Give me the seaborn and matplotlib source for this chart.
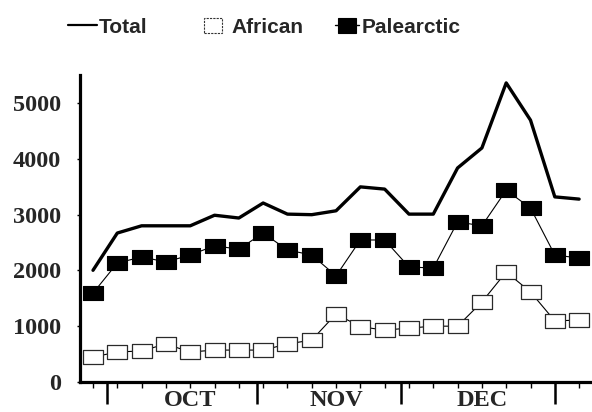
import numpy as np
import pandas as pd
import matplotlib
matplotlib.use("Agg")
import matplotlib.pyplot as plt
from matplotlib.path import Path
from matplotlib.lines import Line2D
from matplotlib.patches import Rectangle
import seaborn as sns

# ---- data ----
period = list(range(21))
total = [2000, 2670, 2800, 2800, 2800, 2990, 2940, 3210, 3010, 3000, 3070,
         3500, 3460, 3010, 3010, 3840, 4200, 5370, 4700, 3320, 3280]
palearctic = [1590, 2130, 2240, 2150, 2275, 2440, 2380, 2670, 2365, 2275, 1900,
              2545, 2545, 2060, 2040, 2870, 2800, 3440, 3120, 2275, 2220]
african = [440, 530, 550, 675, 530, 565, 565, 565, 675, 745, 1215,
           985, 925, 960, 995, 995, 1430, 1970, 1610, 1090, 1105]
month_labels = ["OCT", "NOV", "DEC"]
month_label_pos = [4, 10, 16]
month_bounds = [0.58, 6.75, 12.67, 19.0]
yticks = [0, 1000, 2000, 3000, 4000, 5000]

df = pd.DataFrame({"period": period, "Total": total,
                   "Palearctic": palearctic, "African": african})

sns.set_style("white")
plt.rcParams["font.family"] = ["Liberation Serif", "DejaVu Serif"]

W, H = 592, 412
fig = plt.figure(figsize=(W / 100, H / 100), dpi=100)
ax_left, ax_bottom_px, ax_top_px = 80, 381.5, 75
ax = fig.add_axes([ax_left / W, (H - ax_bottom_px) / H,
                   (W - ax_left) / W, (ax_bottom_px - ax_top_px) / H])

rect = Path([(-1, -0.68), (1, -0.68), (1, 0.68), (-1, 0.68), (-1, -0.68)],
            [Path.MOVETO, Path.LINETO, Path.LINETO, Path.LINETO, Path.CLOSEPOLY])

# connectors
sns.lineplot(data=df, x="period", y="African", ax=ax, color="black",
             linewidth=0.8, zorder=2)
sns.lineplot(data=df, x="period", y="Palearctic", ax=ax, color="black",
             linewidth=0.8, zorder=2)
# markers
sns.scatterplot(data=df, x="period", y="African", ax=ax, marker=rect, s=215,
                facecolor="white", edgecolor="#2a2a2a", linewidth=0.9, zorder=3)
sns.scatterplot(data=df, x="period", y="Palearctic", ax=ax, marker=rect, s=225,
                facecolor="black", edgecolor="black", linewidth=0.8, zorder=3)
# total
sns.lineplot(data=df, x="period", y="Total", ax=ax, color="black",
             linewidth=2.4, zorder=4)

ax.set_xlim(-0.535, 20.53)
ax.set_ylim(0, 5512)
ax.set_xlabel("")
ax.set_ylabel("")

for s in ["top", "right"]:
    ax.spines[s].set_visible(False)
for s in ["left", "bottom"]:
    ax.spines[s].set_linewidth(2.3)
    ax.spines[s].set_color("black")

ax.set_yticks(yticks)
ax.set_yticklabels([str(v) for v in yticks], fontsize=17.5, fontweight="bold")
ax.tick_params(axis="y", length=2.5, width=1, pad=11, color="black", left=True)

ax.set_xticks(month_bounds)
ax.set_xticklabels([])
ax.set_xticks(period, minor=True)
ax.tick_params(axis="x", which="major", length=16, width=1.8, color="black",
               bottom=True, direction="out")
ax.tick_params(axis="x", which="minor", length=4.5, width=1.0, color="black",
               bottom=True, direction="out")

for lab, pos in zip(month_labels, month_label_pos):
    ax.annotate(lab, xy=(pos, 0), xycoords=("data", "axes fraction"),
                xytext=(0, -6), textcoords="offset points",
                ha="center", va="top", fontsize=17.5, fontweight="bold",
                annotation_clip=False)

# legend (manual)
lg_font = dict(family=["Liberation Sans", "DejaVu Sans"], fontsize=15,
               fontweight="bold", va="baseline", ha="left")
by = 1 - 33 / H
fig.add_artist(Line2D([68 / W, 97 / W], [1 - 24.5 / H] * 2, color="black",
                      linewidth=1.6))
fig.text(99 / W, by, "Total", **lg_font)
fig.add_artist(Rectangle((204 / W, 1 - 33 / H), 18 / W, 15 / H,
                         facecolor="white", edgecolor="#333333",
                         linewidth=0.8, linestyle=(0, (2, 1))))
fig.text(231 / W, by, "African", **lg_font)
fig.add_artist(Line2D([335 / W, 359 / W], [1 - 25 / H] * 2, color="black",
                      linewidth=1.0))
fig.add_artist(Rectangle((338 / W, 1 - 33 / H), 18 / W, 15 / H,
                         facecolor="black", edgecolor="black", linewidth=0.8))
fig.text(362 / W, by, "Palearctic", **lg_font)

fig.savefig("out.png", dpi=100)
